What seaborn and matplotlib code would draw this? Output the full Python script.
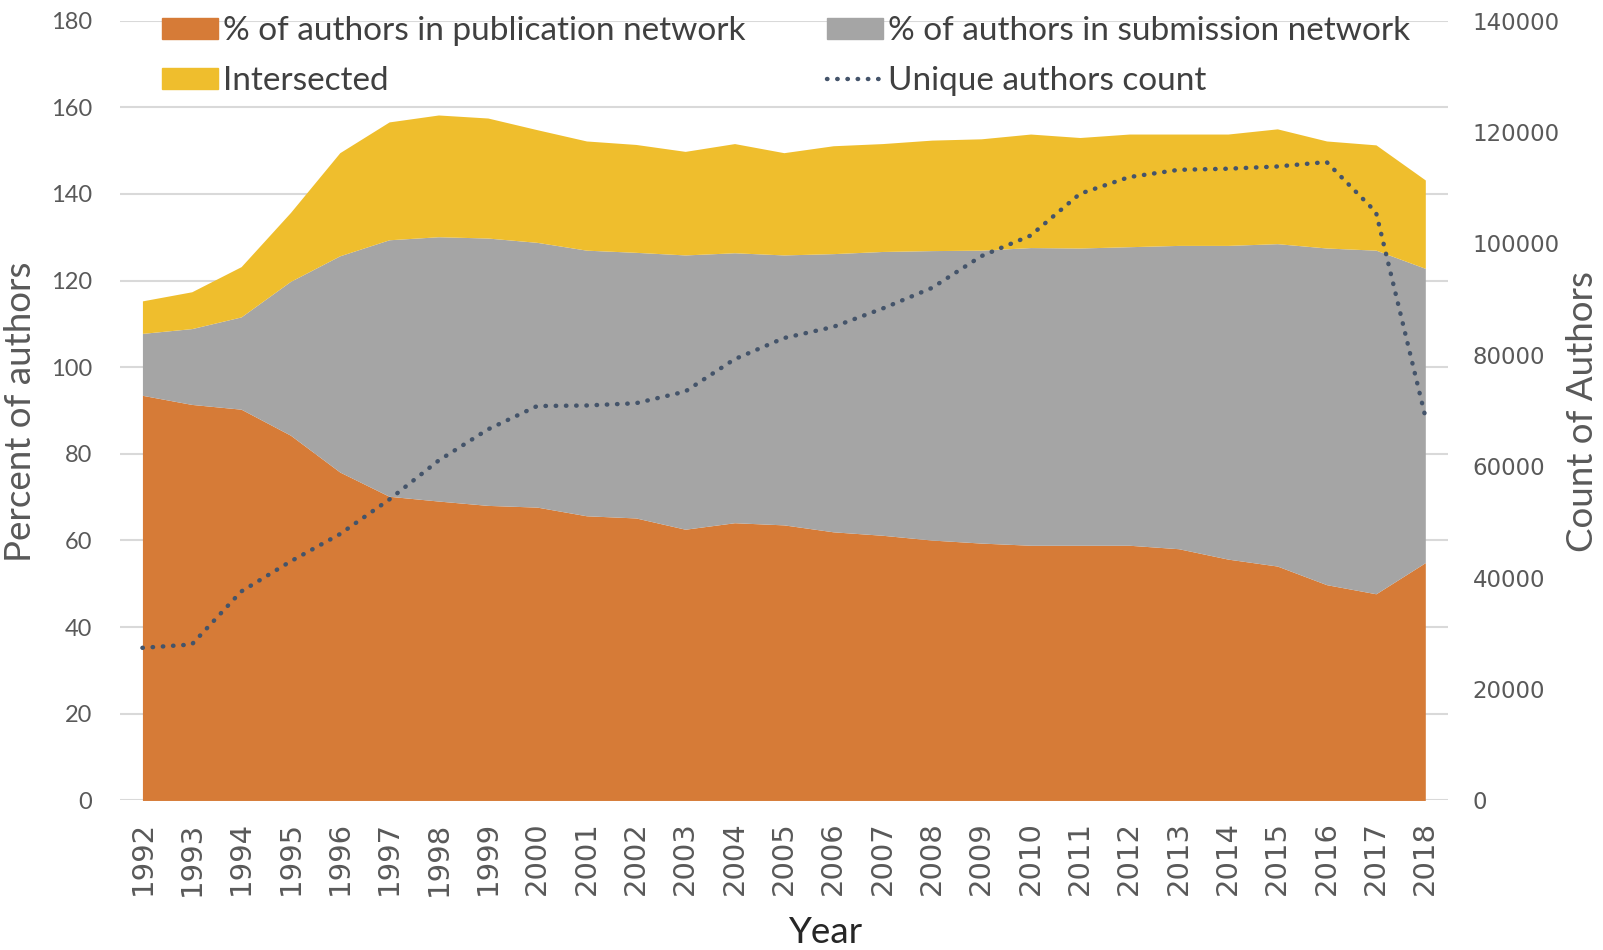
import numpy as np
import pandas as pd
import matplotlib
matplotlib.use("Agg")
import matplotlib.pyplot as plt
import seaborn as sns
from matplotlib.patches import Patch
from matplotlib.lines import Line2D

# du lieu doc tu hinh
years = [str(y) for y in range(1992, 2019)]
pub_pct = [93.5, 91.4, 90.3, 84.3, 75.8, 70.2, 69.1, 68.1, 67.7, 65.7, 65.2, 62.6, 64.1,
           63.6, 62.0, 61.2, 60.1, 59.4, 58.9, 58.9, 58.9, 58.1, 55.7, 54.1, 49.8, 47.7, 54.9]
sub_pct = [14.3, 17.5, 21.3, 35.5, 49.9, 59.2, 61.0, 61.7, 61.1, 61.3, 61.3, 63.3, 62.3,
           62.3, 64.2, 65.5, 66.8, 67.6, 68.7, 68.6, 68.9, 70.0, 72.4, 74.4, 77.7, 79.3, 67.9]
inter_pct = [7.5, 8.5, 11.6, 15.9, 23.8, 27.2, 28.1, 27.7, 26.0, 25.2, 24.9, 23.9, 25.2,
             23.6, 24.9, 24.9, 25.5, 25.7, 26.2, 25.5, 26.0, 25.7, 25.7, 26.5, 24.7, 24.3, 20.4]
unique_authors = [27400, 28000, 37500, 42900, 47800, 54000, 61000, 66600, 70800, 70900,
                  71300, 73400, 79200, 83000, 85000, 88300, 92000, 97700, 101400, 108900,
                  111900, 113200, 113400, 113800, 114600, 105600, 68900]

df = pd.DataFrame({"year": years, "pub": pub_pct, "sub": sub_pct,
                   "inter": inter_pct, "unique": unique_authors})
df["pos"] = np.arange(len(df))

sns.set_theme(style="white")
plt.rcParams["font.family"] = ["Lato", "DejaVu Sans"]

c_orange = "#D67B37"
c_gray = "#A5A5A5"
c_yellow = "#EFBE2D"
c_line = "#44546A"
c_text = "#595959"
dots = (0, (0.1, 2.2))

fig = plt.figure(figsize=(16.03, 9.5), dpi=100)
ax = fig.add_axes([0.075, 0.1574, 0.828, 0.821])

ax.stackplot(df["pos"], df["pub"], df["sub"], df["inter"],
             colors=[c_orange, c_gray, c_yellow], linewidth=0)
ax.set_xlim(-0.45, len(df) - 1 + 0.45)
ax.set_ylim(0, 180)
ax.set_yticks(range(0, 181, 20))
ax.yaxis.grid(True, color="#D9D9D9", linewidth=1.5)
ax.set_axisbelow(True)
ax.set_xticks(df["pos"])
ax.set_xticklabels(df["year"], rotation=90, fontsize=21, color=c_text, family="DejaVu Sans")
ax.tick_params(axis="x", length=0, pad=15)
ax.tick_params(axis="y", length=0, pad=20, labelsize=17, labelcolor=c_text)
for s in ax.spines.values():
    s.set_visible(False)

ax2 = ax.twinx()
sns.lineplot(data=df, x="pos", y="unique", ax=ax2, color=c_line, linewidth=3.2,
             linestyle=dots, dash_capstyle="round")
ax2.set_ylim(0, 140000)
ax2.set_yticks(range(0, 140001, 20000))
ax2.tick_params(axis="y", length=0, pad=18, labelsize=16.5, labelcolor=c_text)
for t in ax2.get_yticklabels():
    t.set_family("DejaVu Sans")
for s in ax2.spines.values():
    s.set_visible(False)
ax2.set_xlabel("")
ax2.set_ylabel("")

# nhan truc
fig.text(0.0125, 0.567, "Percent of authors", rotation=90, ha="center", va="center",
         fontsize=26.5, color=c_text)
fig.text(0.9875, 0.567, "Count of Authors", rotation=90, ha="center", va="center",
         fontsize=26.5, color=c_text)
fig.text(0.515, 0.018, "Year", ha="center", va="center", fontsize=26.5, color="#262626")

handles = [Patch(color=c_orange), Patch(color=c_yellow), Patch(color=c_gray),
           Line2D([0], [0], color=c_line, linewidth=3.2, linestyle=dots,
                  dash_capstyle="round")]
labels = ["% of authors in publication network", "Intersected",
          "% of authors in submission network", "Unique authors count"]
leg = fig.legend(handles, labels, ncol=2, loc="upper left", bbox_to_anchor=(0.1008, 0.983),
                 frameon=False, fontsize=24, handlelength=1.68, handleheight=0.6,
                 handletextpad=0.15, columnspacing=2.45, labelspacing=0.6,
                 borderpad=0, borderaxespad=0)
for t in leg.get_texts():
    t.set_color("#404040")

fig.savefig("out.png", dpi=100)
